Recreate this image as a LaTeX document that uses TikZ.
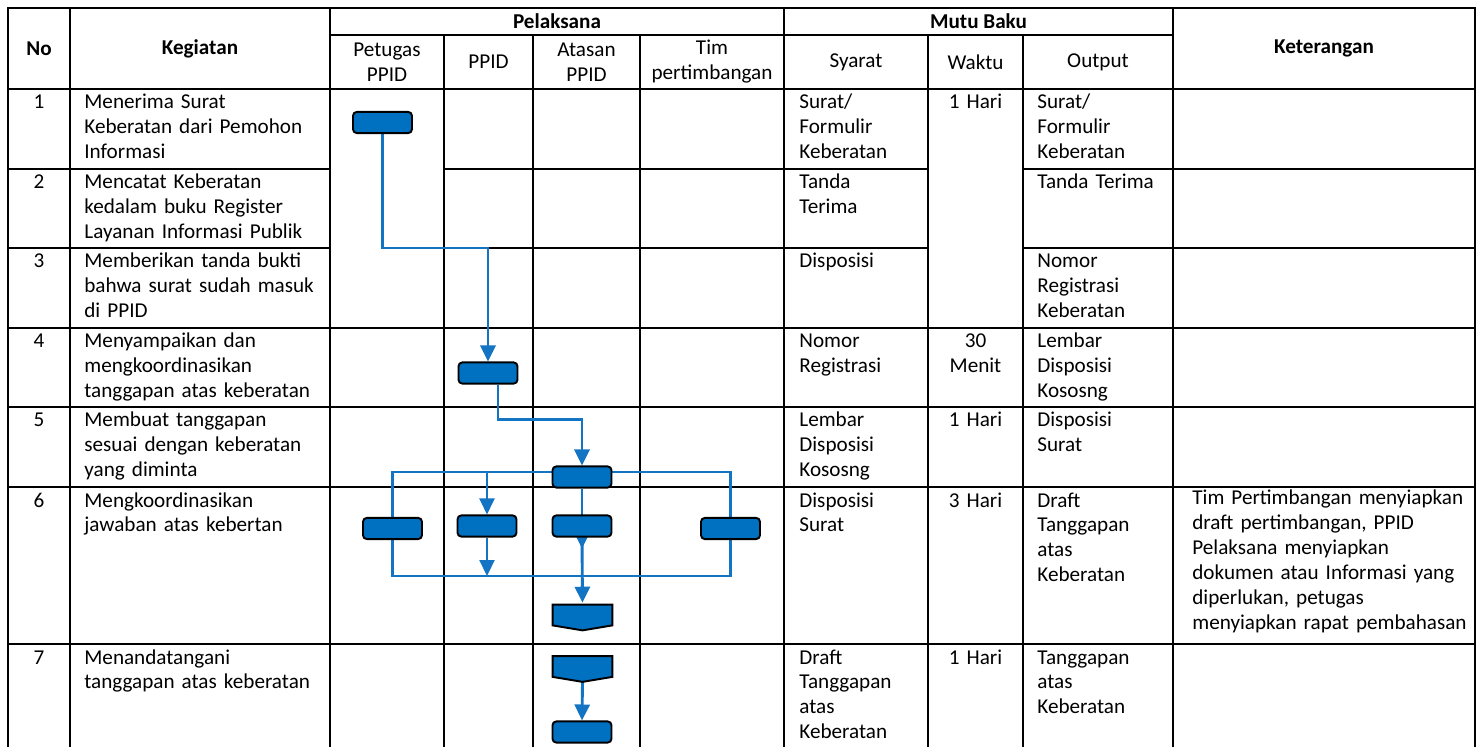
\documentclass[tikz,border=0pt]{standalone}
\usepackage{fontspec}
\setmainfont{Carlito}
\usetikzlibrary{arrows.meta}
\definecolor{flowblue}{HTML}{0070C0}
\definecolor{wireblue}{HTML}{1474C4}
\newcommand{\tblfont}{\fontsize{11}{13}\selectfont}
\pgfdeclarelayer{grid}
\pgfdeclarelayer{wires}
\pgfsetlayers{grid,wires,main}

\begin{document}
\begin{tikzpicture} [x=0.52pt,y=-0.52pt,
    gridline/.style={line width=1.3pt, line cap=rect},
    actbox/.style={rectangle, rounded corners=2pt, draw=black, line width=1pt, fill=flowblue, minimum width=30.7pt, minimum height=11pt, inner sep=0pt},
    pgbox/.style={rectangle, inner sep=0pt, minimum width=30.7pt, minimum height=13pt},
    pgon/.style={draw=black, line width=1pt, fill=flowblue, line join=miter},
    wire/.style={draw=wireblue, line width=1.5pt},
    thinwire/.style={draw=wireblue, line width=1.1pt},
    arrowend/.style={-{Triangle[length=8.3pt 0 0,width=7.8pt 0 0]}},
    head/.style={anchor=center, inner sep=0pt, align=center, font=\tblfont},
    headb/.style={head, font=\tblfont\bfseries},
    cell/.style={anchor=base west, inner sep=0pt, text width=148pt, align=left, font=\tblfont},
    cellc/.style={anchor=base, inner sep=0pt, text width=40pt, align=center, font=\tblfont}]

%page
        \useasboundingbox (0,0) rectangle (1483,747);
\begin{pgfonlayer}{grid}
        \fill[white] (0,0) rectangle (1483,747);
%table lines
        \draw [gridline] (8,8) -- (1475,8);
        \foreach \x in {8,70,330,784,1173,1475}
            \draw [gridline] (\x,8) -- (\x,747);
        \foreach \x in {444,533,640,928,1023}
            \draw [gridline] (\x,35) -- (\x,747);
        \draw [gridline] (330,35) -- (1173,35);
        \foreach \y in {89,328,407,487,644}
            \draw [gridline] (8,\y) -- (1475,\y);
        \foreach \y in {169,248} {
            \draw [gridline] (8,\y) -- (330,\y);
            \draw [gridline] (444,\y) -- (928,\y);
            \draw [gridline] (1023,\y) -- (1475,\y);
        }
\end{pgfonlayer}

%header
        \node[headb] (hno)  at (39,48.5)    {No};
        \node[headb] (hkeg) at (200,48.5)   {Kegiatan};
        \node[headb] (hpel) at (557,21.5)   {Pelaksana};
        \node[headb] (hmut) at (978.5,21.5) {Mutu Baku};
        \node[headb] (hket) at (1324,48.5)  {Keterangan};
        \node[head] (hpet) at (387,62)   {Petugas\\PPID};
        \node[head] (hppid) at (488.5,62) {PPID};
        \node[head] (hata) at (586.5,62) {Atasan\\PPID};
        \node[head] (htim) at (712,62)   {Tim\\pertimbangan};
        \node[head] (hsya) at (856,62)   {Syarat};
        \node[head] (hwak) at (975.5,62) {Waktu};
        \node[head] (hout) at (1098,62)  {Output};

%row 1
        \node[cellc] (no1)  at (39,109)   {1};
        \node[cell]  (keg1) at (84,109)   {Menerima Surat\\Keberatan dari Pemohon\\Informasi};
        \node[cell]  (sy1)  at (799,109)  {Surat/\\Formulir\\Keberatan};
        \node[cellc] (wk1)  at (975.5,109) {1 Hari};
        \node[cell]  (out1) at (1037,109) {Surat/\\Formulir\\Keberatan};
%row 2
        \node[cellc] (no2)  at (39,189)   {2};
        \node[cell]  (keg2) at (84,189)   {Mencatat Keberatan\\kedalam buku Register\\Layanan Informasi Publik};
        \node[cell]  (sy2)  at (799,189)  {Tanda\\Terima};
        \node[cell]  (out2) at (1037,189) {Tanda Terima};
%row 3
        \node[cellc] (no3)  at (39,268)   {3};
        \node[cell]  (keg3) at (84,268)   {Memberikan tanda bukti\\bahwa surat sudah masuk\\di PPID};
        \node[cell]  (sy3)  at (799,268)  {Disposisi};
        \node[cell]  (out3) at (1037,268) {Nomor\\Registrasi\\Keberatan};
%row 4
        \node[cellc] (no4)  at (39,348)   {4};
        \node[cell]  (keg4) at (84,348)   {Menyampaikan dan\\mengkoordinasikan\\tanggapan atas keberatan};
        \node[cell]  (sy4)  at (799,348)  {Nomor\\Registrasi};
        \node[cellc] (wk4)  at (975.5,348) {30\\Menit};
        \node[cell]  (out4) at (1037,348) {Lembar\\Disposisi\\Kososng};
%row 5
        \node[cellc] (no5)  at (39,427)   {5};
        \node[cell]  (keg5) at (84,427)   {Membuat tanggapan\\sesuai dengan keberatan\\yang diminta};
        \node[cell]  (sy5)  at (799,427)  {Lembar\\Disposisi\\Kososng};
        \node[cellc] (wk5)  at (975.5,427) {1 Hari};
        \node[cell]  (out5) at (1037,427) {Disposisi\\Surat};
%row 6
        \node[cellc] (no6)  at (39,507)   {6};
        \node[cell]  (keg6) at (84,507)   {Mengkoordinasikan\\jawaban atas kebertan};
        \node[cell]  (sy6)  at (799,507)  {Disposisi\\Surat};
        \node[cellc] (wk6)  at (975.5,507) {3 Hari};
        \node[cell]  (out6) at (1037,507) {Draft\\Tanggapan\\atas\\Keberatan};
        \node[cell]  (ket6) at (1192,505) {Tim Pertimbangan menyiapkan\\draft pertimbangan, PPID\\Pelaksana menyiapkan\\dokumen atau Informasi yang\\diperlukan, petugas\\menyiapkan rapat pembahasan};
%row 7
        \node[cellc] (no7)  at (39,664)   {7};
        \node[cell]  (keg7) at (84,664)   {Menandatangani\\tanggapan atas keberatan};
        \node[cell]  (sy7)  at (799,664)  {Draft\\Tanggapan\\atas\\Keberatan};
        \node[cellc] (wk7)  at (975.5,664) {1 Hari};
        \node[cell]  (out7) at (1037,664) {Tanggapan\\atas\\Keberatan};

%flow boxes
        \node[actbox] (a1) at (382.5,122.5) {};
        \node[actbox] (a2) at (488,373) {};
        \node[actbox] (a3) at (582,477) {};
        \node[actbox] (p6) at (392.5,528.5) {};
        \node[actbox] (k6) at (487,526) {};
        \node[actbox] (c6) at (582,526) {};
        \node[actbox] (t6) at (730.5,528.5) {};
        \node[pgbox] (op6) at (582.5,617.5) {};
        \node[pgbox] (op7) at (582.5,669) {};
        \node[actbox] (a7) at (582,732) {};
        \draw[pgon] (op6.north west) -- (op6.north east) -- ([yshift=2.6pt]op6.south east) -- (op6.south) -- ([yshift=2.6pt]op6.south west) -- cycle;
        \draw[pgon] (op7.north west) -- (op7.north east) -- ([yshift=2.6pt]op7.south east) -- (op7.south) -- ([yshift=2.6pt]op7.south west) -- cycle;
        \coordinate (ltop) at (582,472);
        \coordinate (lbot) at (582,576);

\begin{pgfonlayer}{wires}
%connectors
        \draw [wire, arrowend] (a1.south) -- ++(0,114) -| (a2.north);
        \draw [wire, arrowend] ([xshift=5.2pt]a2.south) -- ++(0,35) -| (a3.north);
        \draw [thinwire] (p6.center) |- (ltop) -| (t6.center);
        \draw [thinwire] (p6.center) |- (lbot) -| (t6.center);
        \draw [thinwire, arrowend] (ltop -| k6.north) -- (k6.north);
        \draw [thinwire, arrowend] (k6.south) -- (lbot -| k6.south);
        \draw [wire, arrowend] (a3.south) -- ([yshift=-5.7pt]c6.south);
        \draw [wire, arrowend, shorten >=1pt] (c6.south) -- (op6.north);
        \draw [wire, arrowend] (op7.south) -- (a7.north);
\end{pgfonlayer}
    \end{tikzpicture}
\end{document}
